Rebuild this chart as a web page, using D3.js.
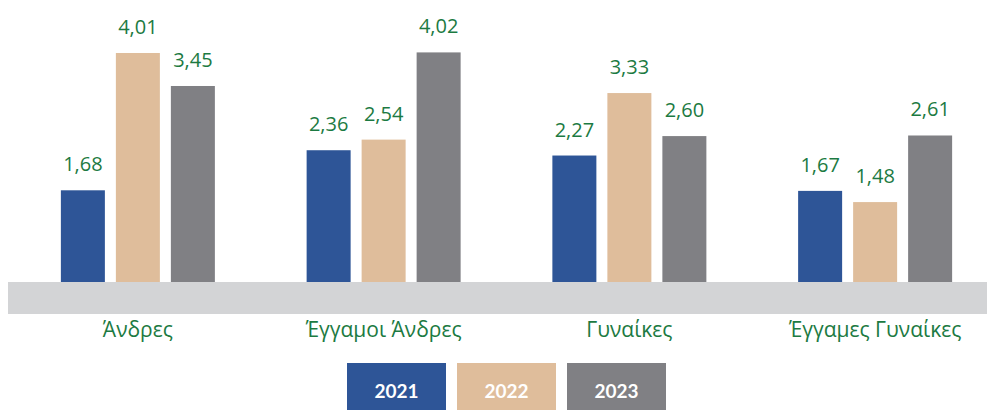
<!DOCTYPE html>
<html><head><meta charset="utf-8">
<script src="https://cdn.jsdelivr.net/npm/d3@7"></script>
<style>
html,body{margin:0;padding:0;background:#fff;}
svg{display:block;}
</style>
</head><body>
<svg id="chart" width="987" height="410"></svg>
<script>
const categories = ["Άνδρες", "Έγγαμοι Άνδρες", "Γυναίκες", "Έγγαμες Γυναίκες"];
const seriesNames = ["2021", "2022", "2023"];
const values2021 = [1.68, 2.36, 2.27, 1.67];
const values2022 = [4.01, 2.54, 3.33, 1.48];
const values2023 = [3.45, 4.02, 2.60, 2.61];
const seriesColors = ["#2e5597", "#dfbd9b", "#808084"];

const series = [values2021, values2022, values2023];
const svg = d3.select("#chart");
const green = "#1c7a42";

const x0 = d3.scaleBand().domain(categories).range([15, 998]);
const x1 = d3.scaleBand().domain(seriesNames).range([-77, 77]).paddingInner(0.2).paddingOuter(0);
const y = d3.scaleLinear().domain([0, 4.02]).range([289.3, 289.3 - 58.93 * 4.02]);

const fmt = v => d3.format(".2f")(v).replace(".", ",");

const groups = svg.selectAll("g.grp").data(categories).join("g")
  .attr("class", "grp")
  .attr("transform", c => `translate(${x0(c) + x0.bandwidth() / 2},0)`);

groups.each(function(c, ci) {
  const g = d3.select(this);
  const rows = seriesNames.map((s, si) => ({s, si, v: series[si][ci]}));
  g.selectAll("rect").data(rows).join("rect")
    .attr("x", d => x1(d.s))
    .attr("width", x1.bandwidth())
    .attr("y", d => y(d.v))
    .attr("height", d => y(0) - y(d.v))
    .attr("fill", d => seriesColors[d.si]);
  g.selectAll("text.val").data(rows).join("text")
    .attr("class", "val")
    .attr("x", d => x1(d.s) + x1.bandwidth() / 2)
    .attr("y", d => y(d.v) - 19)
    .attr("text-anchor", "middle")
    .attr("font-family", "'Open Sans', sans-serif")
    .attr("font-size", 20)
    .attr("fill", green)
    .text(d => fmt(d.v));
});

// baseline band
svg.append("rect").attr("x", 8).attr("y", 282).attr("width", 979).attr("height", 32).attr("fill", "#d3d4d6");

// category labels
svg.selectAll("text.cat").data(categories).join("text")
  .attr("class", "cat")
  .attr("x", c => x0(c) + x0.bandwidth() / 2)
  .attr("y", 337)
  .attr("text-anchor", "middle")
  .attr("font-family", "'Open Sans', sans-serif")
  .attr("font-size", 21)
  .attr("fill", green)
  .text(c => c);

// legend
const lx = d3.scaleBand().domain(seriesNames).range([347, 666]).paddingInner(0.1);
const leg = svg.selectAll("g.leg").data(seriesNames).join("g").attr("class", "leg");
leg.append("rect")
  .attr("x", s => lx(s)).attr("y", 363).attr("width", lx.bandwidth()).attr("height", 50)
  .attr("fill", (s, i) => seriesColors[i]);
leg.append("text")
  .attr("x", s => lx(s) + lx.bandwidth() / 2)
  .attr("y", 398)
  .attr("text-anchor", "middle")
  .attr("font-family", "Lato, 'Open Sans', sans-serif")
  .attr("font-weight", "bold")
  .attr("font-size", 19)
  .attr("fill", "#fff")
  .text(s => s);
</script>
</body></html>
